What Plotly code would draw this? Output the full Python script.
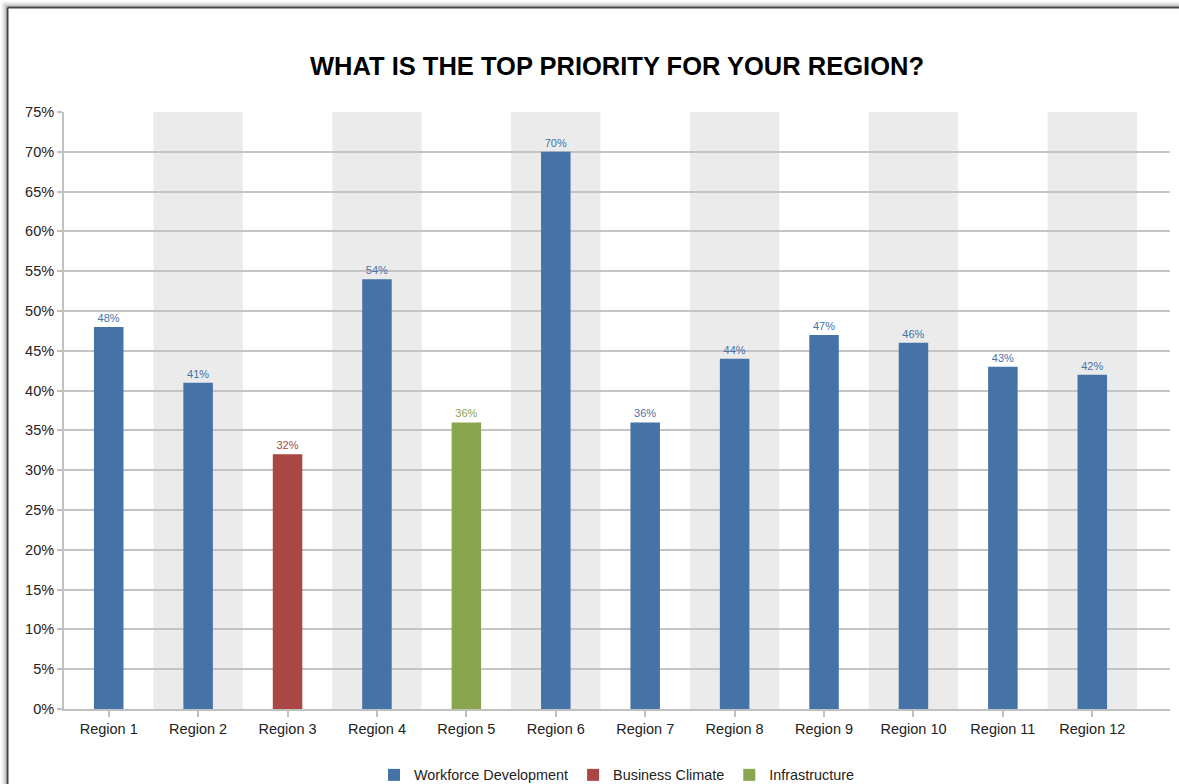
import plotly.graph_objects as go

regions = ["Region 1", "Region 2", "Region 3", "Region 4", "Region 5", "Region 6",
           "Region 7", "Region 8", "Region 9", "Region 10", "Region 11", "Region 12"]
workforce = [48, 41, None, 54, None, 70, 36, 44, 47, 46, 43, 42]
business = [None, None, 32, None, None, None, None, None, None, None, None, None]
infrastructure = [None, None, None, None, 36, None, None, None, None, None, None, None]
y_ticks = [0, 5, 10, 15, 20, 25, 30, 35, 40, 45, 50, 55, 60, 65, 70, 75]

series = [
    ("Workforce Development", workforce, "#4572A7"),
    ("Business Climate", business, "#AA4643"),
    ("Infrastructure", infrastructure, "#89A54E"),
]

W, H = 1179, 784
L, R, T, B = 64, 1170, 112, 709


def px(x):
    return (x - L) / (R - L)


def py(y):
    return (B - y) / (B - T)


fig = go.Figure()
idx = list(range(len(regions)))
for name, vals, col in series:
    fig.add_trace(go.Bar(
        x=idx, y=vals, name=name, marker=dict(color=col, line=dict(width=0)),
        width=0.33,
        text=[f"{v}%" if v is not None else None for v in vals],
        textposition="outside", cliponaxis=False,
        textfont=dict(size=11, color=col, family="Liberation Sans, Arial"),
    ))

shapes = []
# alternating bands
for i in idx:
    if i % 2 == 1:
        shapes.append(dict(type="rect", xref="x", yref="paper", x0=i - 0.5, x1=i + 0.5,
                           y0=0, y1=1, fillcolor="#ebebeb", line=dict(width=0), layer="below"))
# frame with shadow
for off, col in [(6, "#f2f2f2"), (5, "#e6e6e6"), (4, "#d6d6d6"), (3, "#c4c4c4"), (2, "#aaaaaa")]:
    p = 7 - off + 1
    shapes.append(dict(type="line", xref="paper", yref="paper",
                       x0=px(p), x1=px(p), y0=py(p), y1=py(800),
                       line=dict(color=col, width=1), layer="above"))
    shapes.append(dict(type="line", xref="paper", yref="paper",
                       x0=px(p), x1=px(1179), y0=py(p), y1=py(p),
                       line=dict(color=col, width=1), layer="above"))
shapes.append(dict(type="line", xref="paper", yref="paper", x0=px(7.5), x1=px(7.5), y0=py(7.5), y1=py(800),
                   line=dict(color="#444444", width=2), layer="above"))
shapes.append(dict(type="line", xref="paper", yref="paper", x0=px(7.5), x1=px(1179), y0=py(7.5), y1=py(7.5),
                   line=dict(color="#444444", width=2), layer="above"))

fig.update_layout(
    width=W, height=H,
    margin=dict(l=L, r=W - R, t=T, b=H - B, autoexpand=False),
    paper_bgcolor="white", plot_bgcolor="white",
    barmode="overlay",
    font=dict(family="Liberation Sans, Arial", color="#222222", size=14),
    title=dict(text="<b>WHAT IS THE TOP PRIORITY FOR YOUR REGION?</b>",
               x=0.5, xref="paper", xanchor="center",
               y=1 - 66 / H, yref="container", yanchor="middle",
               font=dict(size=25.5, color="#000000", family="Liberation Sans, Arial")),
    xaxis=dict(
        tickmode="array", tickvals=idx, ticktext=regions,
        range=[-0.5, 11.5 + (R - 1137) / ((1137 - L) / 12)],
        tickson="boundaries", ticks="outside", ticklen=6, tickwidth=1.5, tickcolor="#c0c0c0",
        showline=True, linecolor="#c0c0c0", linewidth=2,
        showgrid=False, zeroline=False,
        tickfont=dict(size=14.5, color="#222222"),
    ),
    yaxis=dict(
        range=[0, 75], tickmode="array", tickvals=y_ticks,
        ticktext=[f"{v}%" for v in y_ticks],
        ticks="outside", ticklen=5, tickwidth=1.5, tickcolor="#c0c0c0",
        showline=True, linecolor="#c0c0c0", linewidth=2,
        showgrid=True, gridcolor="#c4c4c4", gridwidth=1.5, zeroline=False,
        tickfont=dict(size=14.5, color="#222222"),
    ),
    legend=dict(orientation="h", x=px(617), xanchor="center", y=py(775), yanchor="middle",
                font=dict(size=14.4, color="#222222"), bgcolor="rgba(0,0,0,0)",
                itemwidth=30, tracegroupgap=0),
    shapes=shapes,
)

fig.write_html("out.html",
               config={"displayModeBar": False},
               post_script="document.body.style.margin='0px';document.body.style.padding='0px';document.body.style.overflow='hidden';")
